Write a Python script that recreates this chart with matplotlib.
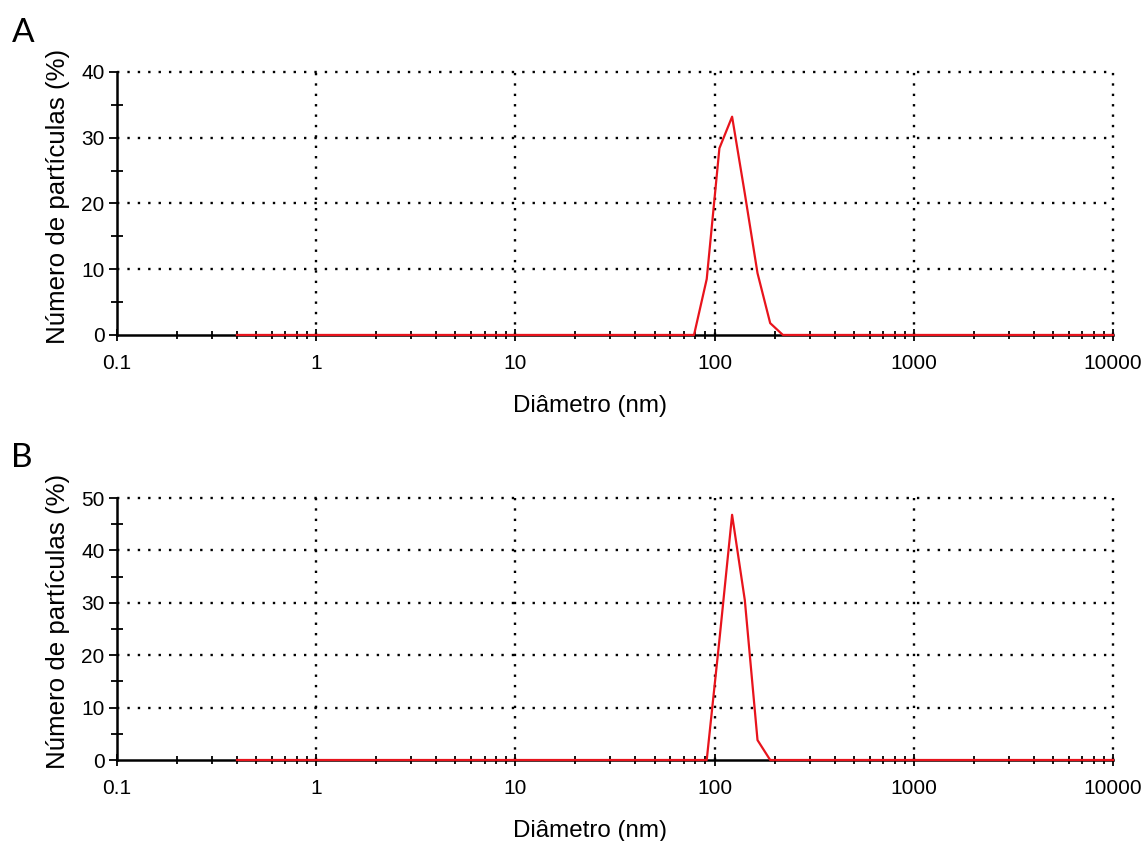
import matplotlib
matplotlib.use("Agg")
import matplotlib.pyplot as plt
from matplotlib.ticker import LogLocator, FixedLocator, NullFormatter, FixedFormatter, MultipleLocator

plt.rcParams['font.family'] = ['Liberation Sans', 'DejaVu Sans']

# Size bins (nm) and number distribution (%)
diam_a = [0.4, 78.82, 91.28, 105.7, 122.4, 141.8, 164.2, 190.1, 220.2, 10000]
num_a = [0.0, 0.0, 8.5, 28.4, 33.2, 21.5, 9.4, 1.8, 0.0, 0.0]

diam_b = [0.4, 91.28, 105.7, 122.4, 141.8, 164.2, 190.1, 10000]
num_b = [0.0, 0.0, 22.9, 46.8, 30.5, 3.8, 0.0, 0.0]

x_ticks = [0.1, 1, 10, 100, 1000, 10000]
x_tick_labels = ["0.1", "1", "10", "100", "1000", "10000"]

panels = [
    dict(letter="A", x=diam_a, y=num_a, ymax=40, rect=[0.1023, 0.6017, 0.8706, 0.3127], letter_y=0.9607),
    dict(letter="B", x=diam_b, y=num_b, ymax=50, rect=[0.1023, 0.0963, 0.8706, 0.3115], letter_y=0.455),
]

fig = plt.figure(figsize=(11.44, 8.41), dpi=100)
grid_style = dict(color="black", linestyle=(0, (1, 3.4)), linewidth=1.7, clip_on=False)

for p in panels:
    ax = fig.add_axes(p["rect"])
    ax.set_xscale("log")
    ax.set_xlim(0.1, 10000)
    ax.set_ylim(0, p["ymax"])

    # grid
    for xv in [1, 10, 100, 1000, 10000]:
        ax.axvline(xv, zorder=1, **grid_style)
    for yv in range(10, p["ymax"] + 1, 10):
        ax.axhline(yv, zorder=1, **grid_style)

    ax.plot(p["x"], p["y"], color="#e8141c", linewidth=1.6, zorder=4, clip_on=False)

    for s in ["top", "right"]:
        ax.spines[s].set_visible(False)
    ax.spines["left"].set_linewidth(1.8)
    ax.spines["bottom"].set_linewidth(1.8)
    ax.spines["left"].set_zorder(3)
    ax.spines["bottom"].set_zorder(3)

    ax.xaxis.set_major_locator(FixedLocator(x_ticks))
    ax.xaxis.set_major_formatter(FixedFormatter(x_tick_labels))
    ax.xaxis.set_minor_locator(LogLocator(base=10, subs=range(2, 10), numticks=20))
    ax.xaxis.set_minor_formatter(NullFormatter())
    ax.tick_params(axis="x", which="major", direction="inout", length=8, width=1.3, pad=10, labelsize=15)
    ax.tick_params(axis="x", which="minor", direction="inout", length=6, width=1.3)

    ax.yaxis.set_major_locator(MultipleLocator(10))
    ax.yaxis.set_minor_locator(MultipleLocator(5))
    ax.tick_params(axis="y", which="major", direction="out", length=6, width=1.3, pad=3, labelsize=15)
    ax.tick_params(axis="y", which="minor", direction="inout", length=8, width=1.3)

    ax.set_xlabel("Diâmetro (nm)", fontsize=17.4)
    ax.xaxis.set_label_coords(0.4744, -0.228)
    ax.set_ylabel("Número de partículas (%)", fontsize=18.6)
    ax.yaxis.set_label_coords(-0.0475, 0.528)

    fig.text(0.010, p["letter_y"], p["letter"], fontsize=24, family=["Lato", "DejaVu Sans"],
             ha="left", va="center")

fig.savefig("out.png", dpi=100)
